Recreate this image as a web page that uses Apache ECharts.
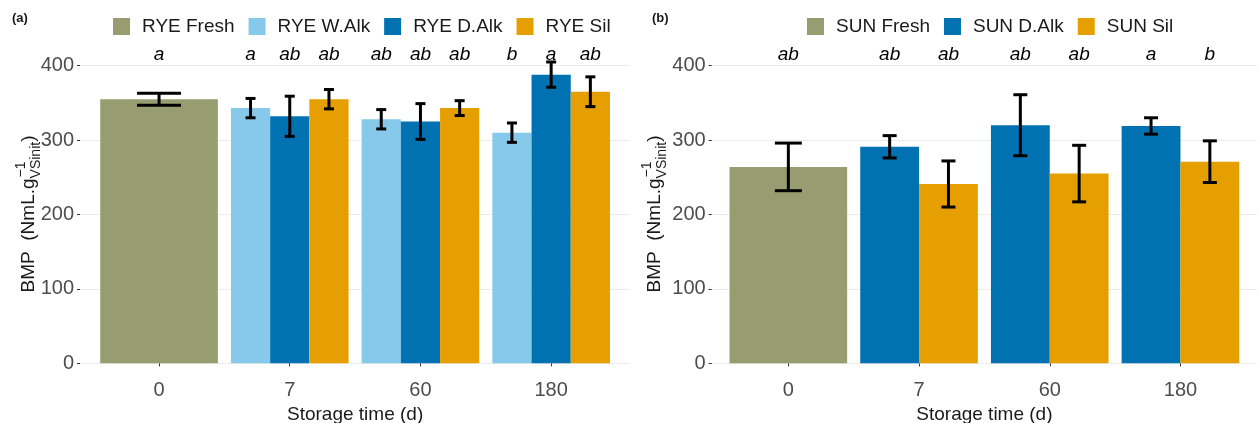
<!DOCTYPE html>
<html>
<head>
<meta charset="utf-8">
<script src="https://cdn.jsdelivr.net/npm/echarts@6/dist/echarts.min.js"></script>
<style>
  html, body { margin: 0; padding: 0; background: #fff; }
  #chart { width: 1257px; height: 423px; }
</style>
</head>
<body>
<div id="chart"></div>
<script>
const days = ['0', '7', '60', '180'];
const yTicks = [0, 100, 200, 300, 400];
const sigLevel = 415; // height of the letter row, in BMP units

// (a) rye
const ryeFresh = [355, null, null, null];
const ryeFreshSd = [8, null, null, null];
const ryeFreshSig = ['a', '', '', ''];
const ryeWAlk = [null, 343, 328, 310];
const ryeWAlkSd = [null, 13, 13, 13];
const ryeWAlkSig = ['', 'a', 'ab', 'b'];
const ryeDAlk = [null, 332, 325, 388];
const ryeDAlkSd = [null, 27, 24, 17];
const ryeDAlkSig = ['', 'ab', 'ab', 'a'];
const ryeSil = [null, 355, 343, 365];
const ryeSilSd = [null, 13, 10, 20];
const ryeSilSig = ['', 'ab', 'ab', 'ab'];

// (b) sunflower
const sunFresh = [264, null, null, null];
const sunFreshSd = [32, null, null, null];
const sunFreshSig = ['ab', '', '', ''];
const sunDAlk = [null, 291, 320, 319];
const sunDAlkSd = [null, 15, 41, 11];
const sunDAlkSig = ['', 'ab', 'ab', 'a'];
const sunSil = [null, 241, 255, 271];
const sunSilSd = [null, 31, 38, 28];
const sunSilSig = ['', 'ab', 'ab', 'b'];

const OLIVE = '#989C71';
const SKY = '#87C9EB';
const BLUE = '#0072B2';
const ORANGE = '#E69F00';
const FONT = '"Liberation Sans", Arial, sans-serif';

const yMin = yTicks[0];
const yMax = yTicks[yTicks.length - 1];
const yStep = yTicks[1] - yTicks[0];

// error bars + significance letters, placed over the right bar of the group
function whiskers(vals, sds, sigs, slot, nSlots, capPx, xIdx, yIdx) {
  const items = [];
  const letters = [];
  vals.forEach((v, i) => {
    if (v != null) {
      items.push([i, v, sds[i]]);
      letters.push(sigs[i]);
    }
  });
  return {
    type: 'custom',
    xAxisIndex: xIdx,
    yAxisIndex: yIdx,
    silent: true,
    clip: false,
    z: 5,
    data: items,
    renderItem: (params, api) => {
      const cat = api.value(0);
      const v = api.value(1);
      const sd = api.value(2);
      const barW = api.size([1, 0])[0] * 0.9 / nSlots;
      const x = api.coord([cat, v])[0] + (slot - (nSlots - 1) / 2) * barW;
      const top = api.coord([cat, v + sd])[1];
      const bot = api.coord([cat, v - sd])[1];
      const ty = api.coord([cat, sigLevel])[1];
      const st = { stroke: '#000', lineWidth: 3 };
      const h = capPx / 2;
      return {
        type: 'group',
        children: [
          { type: 'line', shape: { x1: x, y1: top, x2: x, y2: bot }, style: st },
          { type: 'line', shape: { x1: x - h, y1: top, x2: x + h, y2: top }, style: st },
          { type: 'line', shape: { x1: x - h, y1: bot, x2: x + h, y2: bot }, style: st },
          {
            type: 'text', x: x, y: ty,
            style: {
              text: letters[params.dataIndex],
              font: 'italic 19px ' + FONT,
              fill: '#000',
              textAlign: 'center',
              textVerticalAlign: 'middle'
            }
          }
        ]
      };
    }
  };
}

function bar(name, vals, color, xIdx, yIdx, extra) {
  return Object.assign({
    name: name,
    type: 'bar',
    xAxisIndex: xIdx,
    yAxisIndex: yIdx,
    data: vals,
    itemStyle: { color: color },
    silent: true
  }, extra);
}

// y axis title with subscript/superscript
const ctx = document.createElement('canvas').getContext('2d');
function textW(s, px) {
  ctx.font = px + 'px ' + FONT;
  return ctx.measureText(s).width;
}
function yTitle(cx, cy) {
  const main = 'BMP  (NmL.g';
  const sub = 'VSinit';
  const wMain = textW(main, 19);
  const wSub = textW(sub, 14);
  const wClose = textW(')', 19);
  const total = wMain + wSub + wClose;
  const base = { fill: '#1A1A1A', textAlign: 'left', textVerticalAlign: 'middle' };
  return {
    type: 'group',
    x: cx,
    y: cy + total / 2,
    rotation: Math.PI / 2,
    silent: true,
    children: [
      { type: 'text', x: 0, y: 0, style: Object.assign({ text: main, font: '19px ' + FONT }, base) },
      { type: 'text', x: wMain, y: 7, style: Object.assign({ text: sub, font: '14px ' + FONT }, base) },
      { type: 'text', x: wMain + 1, y: -8, style: Object.assign({ text: '\u22121', font: '14px ' + FONT }, base) },
      { type: 'text', x: wMain + wSub, y: 0, style: Object.assign({ text: ')', font: '19px ' + FONT }, base) }
    ]
  };
}

const tickLabel = { color: '#4D4D4D', fontSize: 20, fontFamily: FONT };

function outerAxes(gridIndex) {
  return {
    x: { type: 'category', gridIndex: gridIndex, data: days, show: false },
    y: {
      type: 'value', gridIndex: gridIndex, min: yMin, max: yMax, interval: yStep,
      axisLine: { show: false },
      axisTick: { show: true, length: 3, lineStyle: { color: '#333' } },
      axisLabel: Object.assign({ margin: 6 }, tickLabel),
      splitLine: { lineStyle: { color: '#EBEBEB', width: 1 } }
    }
  };
}
function innerAxes(gridIndex) {
  return {
    xShown: {
      type: 'category', gridIndex: gridIndex, data: days, position: 'bottom', offset: 15,
      axisLine: { show: false },
      axisTick: { show: true, alignWithLabel: true, length: 3, lineStyle: { color: '#333' } },
      axisLabel: Object.assign({ margin: 2 }, tickLabel),
      name: 'Storage time (d)',
      nameLocation: 'middle',
      nameGap: 17,
      nameTextStyle: { color: '#1A1A1A', fontSize: 19, fontFamily: FONT }
    },
    xHidden: { type: 'category', gridIndex: gridIndex, data: days, position: 'bottom', show: false },
    y: { type: 'value', gridIndex: gridIndex, min: yMin, max: yMax, interval: yStep, show: false }
  };
}

const aOuter = outerAxes(0), aInner = innerAxes(1);
const bOuter = outerAxes(2), bInner = innerAxes(3);

const groupOpts = { barCategoryGap: '10%', barGap: '0%' };
const gridBase = { top: 65.7, bottom: 59.7, outerBoundsMode: 'none', containLabel: false };

const option = {
  animation: false,
  backgroundColor: '#fff',
  textStyle: { fontFamily: FONT },
  grid: [
    Object.assign({ left: 80, right: 628 }, gridBase),
    Object.assign({ left: 93.7, right: 640.5 }, gridBase),
    Object.assign({ left: 711.7, right: 0 }, gridBase),
    Object.assign({ left: 723, right: 11.2 }, gridBase)
  ],
  xAxis: [aOuter.x, aInner.xShown, aInner.xHidden, bOuter.x, bInner.xShown, bInner.xHidden],
  yAxis: [aOuter.y, aInner.y, bOuter.y, bInner.y],
  legend: [
    {
      left: 113, top: 17, padding: 0, itemGap: 14, itemWidth: 17, itemHeight: 17, icon: 'rect',
      textStyle: { fontSize: 19, color: '#1A1A1A', fontFamily: FONT, padding: [0, 0, 0, 7] },
      data: ['RYE Fresh', 'RYE W.Alk', 'RYE D.Alk', 'RYE Sil']
    },
    {
      left: 807, top: 17, padding: 0, itemGap: 14, itemWidth: 17, itemHeight: 17, icon: 'rect',
      textStyle: { fontSize: 19, color: '#1A1A1A', fontFamily: FONT, padding: [0, 0, 0, 7] },
      data: ['SUN Fresh', 'SUN D.Alk', 'SUN Sil']
    }
  ],
  graphic: [
    { type: 'text', left: 12, top: 12, style: { text: '(a)', font: 'bold 13px ' + FONT, fill: '#1A1A1A' } },
    { type: 'text', left: 652, top: 12, style: { text: '(b)', font: 'bold 13px ' + FONT, fill: '#1A1A1A' } },
    yTitle(29, 214),
    yTitle(655, 214)
  ],
  series: [
    bar('RYE Fresh', ryeFresh, OLIVE, 1, 1, { barWidth: '90%' }),
    bar('RYE W.Alk', ryeWAlk, SKY, 2, 1, groupOpts),
    bar('RYE D.Alk', ryeDAlk, BLUE, 2, 1, groupOpts),
    bar('RYE Sil', ryeSil, ORANGE, 2, 1, groupOpts),
    bar('SUN Fresh', sunFresh, OLIVE, 4, 3, { barWidth: '90%' }),
    bar('SUN D.Alk', sunDAlk, BLUE, 5, 3, groupOpts),
    bar('SUN Sil', sunSil, ORANGE, 5, 3, groupOpts),
    whiskers(ryeFresh, ryeFreshSd, ryeFreshSig, 0, 1, 44, 1, 1),
    whiskers(ryeWAlk, ryeWAlkSd, ryeWAlkSig, 0, 3, 10, 2, 1),
    whiskers(ryeDAlk, ryeDAlkSd, ryeDAlkSig, 1, 3, 10, 2, 1),
    whiskers(ryeSil, ryeSilSd, ryeSilSig, 2, 3, 10, 2, 1),
    whiskers(sunFresh, sunFreshSd, sunFreshSig, 0, 1, 27, 4, 3),
    whiskers(sunDAlk, sunDAlkSd, sunDAlkSig, 0, 2, 14, 5, 3),
    whiskers(sunSil, sunSilSd, sunSilSig, 1, 2, 14, 5, 3)
  ]
};

const chart = echarts.init(document.getElementById('chart'), null, { renderer: 'canvas' });
chart.setOption(option);
</script>
</body>
</html>
